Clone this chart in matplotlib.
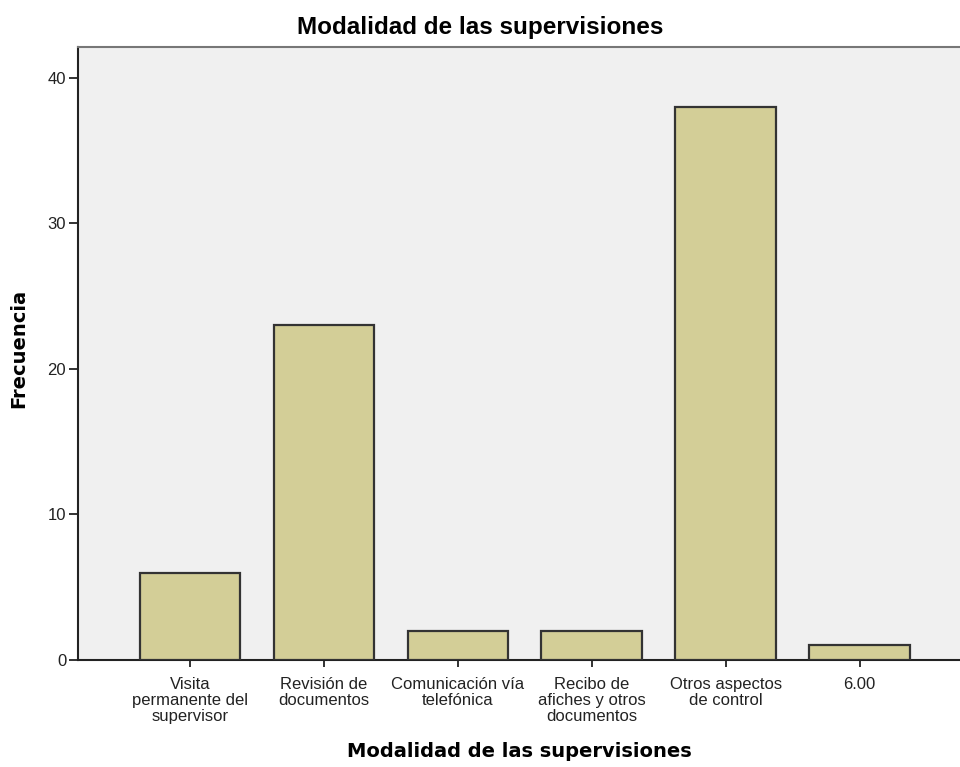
import matplotlib.pyplot as plt

# Data
categories = ["Visita\npermanente del\nsupervisor", "Revisión de\ndocumentos",
              "Comunicación vía\ntelefónica", "Recibo de\nafiches y otros\ndocumentos",
              "Otros aspectos\nde control", "6.00"]
counts = [6, 23, 2, 2, 38, 1]
yticks = [0, 10, 20, 30, 40]

plt.rcParams['font.family'] = ['Liberation Sans', 'DejaVu Sans']

fig = plt.figure(figsize=(9.6, 7.67), dpi=100)
ax = fig.add_axes([78 / 960, 1 - 660 / 767, 1 - 78 / 960, (660 - 47) / 767])
ax.set_facecolor('#f0f0f0')

x = list(range(len(categories)))
ax.bar(x, counts, width=0.75, color='#d3ce97', edgecolor='#333333', linewidth=1.6, zorder=3)

ax.set_xlim(-0.836, 5.75)
ax.set_ylim(0, 42.1)
ax.set_xticks(x)
ax.set_xticklabels(categories, fontsize=12, linespacing=1.1, color='#222222')
ax.set_yticks(yticks)
ax.set_yticklabels([str(v) for v in yticks], fontsize=12, color='#222222')
ax.tick_params(axis='both', direction='out', length=5, width=1.3, color='#222222')
ax.tick_params(axis='x', pad=7)
ax.tick_params(axis='y', length=6.5, pad=2)

ax.spines['right'].set_visible(False)
ax.spines['top'].set_color('#777777')
ax.spines['top'].set_linewidth(1.5)
for side in ['left', 'bottom']:
    ax.spines[side].set_linewidth(1.5)
    ax.spines[side].set_color('#222222')

# title centred on the figure, axis label centred on the plot area
fig.text(0.5, 1 - 34 / 767, "Modalidad de las supervisiones", ha='center', va='baseline',
         fontsize=17.5, fontweight='bold')
fig.text(519 / 960, 1 - 757 / 767, "Modalidad de las supervisiones", ha='center', va='baseline',
         fontsize=14, fontweight='bold', family='DejaVu Sans')
fig.text(19 / 960, 1 - 348 / 767, "Frecuencia", ha='center', va='center', rotation=90,
         fontsize=14, fontweight='bold', family='DejaVu Sans')

fig.savefig('out.png', dpi=100)
